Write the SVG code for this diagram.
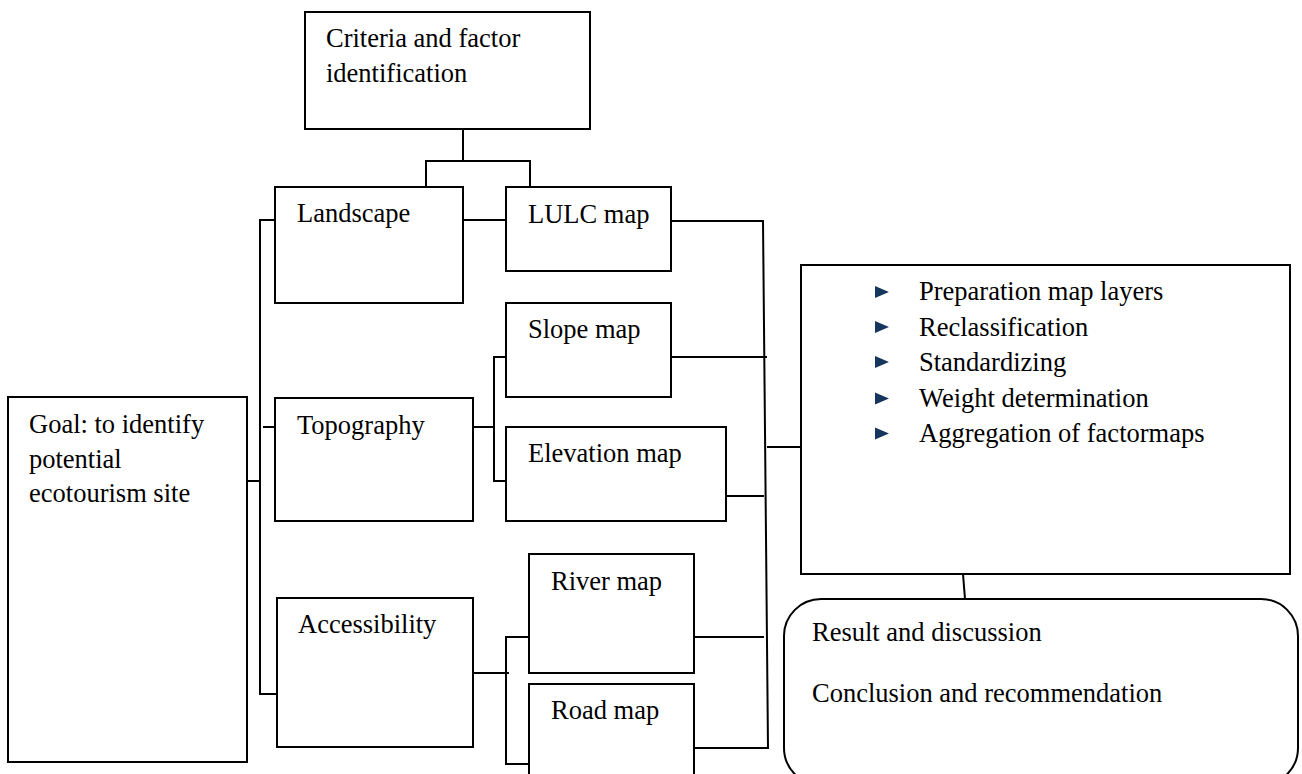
<svg xmlns="http://www.w3.org/2000/svg" width="1302" height="774" viewBox="0 0 1302 774">
<style>
.box{fill:#fff;stroke:#000;stroke-width:2}
.ln{fill:none;stroke:#000;stroke-width:2}
.t{font-family:"Liberation Serif","Times New Roman",serif;font-size:26.5px;fill:#000}
.bul{fill:#17365D}
</style>
<rect width="1302" height="774" fill="#fff"/>
<g id="connectors">
<path class="ln" d="M463,129V161M426,187V161H530V187"/>
<path class="ln" d="M463,220H506"/>
<path class="ln" d="M275,220H260V694H277M247,481H260M263,427H278"/>
<path class="ln" d="M473,427H494M506,357H494V481H508"/>
<path class="ln" d="M473,673H509M529,637H506V764H529"/>
<path class="ln" d="M671,221H763L768,748H694"/>
<path class="ln" d="M671,357H767M726,496H764M694,637H764M767,447H801"/>
<path class="ln" d="M963,574L965,599"/>
</g>
<g id="criteria"><rect class="box" x="305" y="12" width="285" height="117"/>
<text class="t" x="326" y="47">Criteria and factor</text>
<text class="t" x="326" y="82">identification</text></g>
<g id="landscape"><rect class="box" x="275" y="187" width="188" height="116"/>
<text class="t" x="297" y="222">Landscape</text></g>
<g id="lulc"><rect class="box" x="506" y="187" width="165" height="84"/>
<text class="t" x="528" y="223">LULC map</text></g>
<g id="goal"><rect class="box" x="8" y="397" width="239" height="365"/>
<text class="t" x="29" y="433">Goal: to identify</text>
<text class="t" x="29" y="468">potential</text>
<text class="t" x="29" y="502">ecotourism site</text></g>
<g id="topography"><rect class="box" x="275" y="398" width="198" height="123"/>
<text class="t" x="297" y="434">Topography</text></g>
<g id="slope"><rect class="box" x="506" y="303" width="165" height="94"/>
<text class="t" x="528" y="338">Slope map</text></g>
<g id="elevation"><rect class="box" x="506" y="427" width="220" height="94"/>
<text class="t" x="528" y="462">Elevation map</text></g>
<g id="accessibility"><rect class="box" x="277" y="598" width="196" height="149"/>
<text class="t" x="298" y="633">Accessibility</text></g>
<g id="river"><rect class="box" x="529" y="554" width="165" height="119"/>
<text class="t" x="551" y="590">River map</text></g>
<g id="road"><rect class="box" x="529" y="684" width="165" height="100"/>
<text class="t" x="551" y="719">Road map</text></g>
<g id="process"><rect class="box" x="801" y="265" width="489" height="309"/>
<path class="bul" d="M875,286L889,292L875,298ZM875,321L889,327L875,333ZM875,356L889,362L875,368ZM875,392.5L889,398.5L875,404.5ZM875,427.5L889,433.5L875,439.5Z"/>
<text class="t" x="919" y="300">Preparation map layers</text>
<text class="t" x="919" y="335.5">Reclassification</text>
<text class="t" x="919" y="371">Standardizing</text>
<text class="t" x="919" y="406.5">Weight determination</text>
<text class="t" x="919" y="442">Aggregation of factormaps</text></g>
<g id="result"><rect class="box" x="784" y="599" width="514" height="186" rx="37" ry="37"/>
<text class="t" x="812" y="641">Result and discussion</text>
<text class="t" x="812" y="702">Conclusion and recommendation</text></g>
</svg>
